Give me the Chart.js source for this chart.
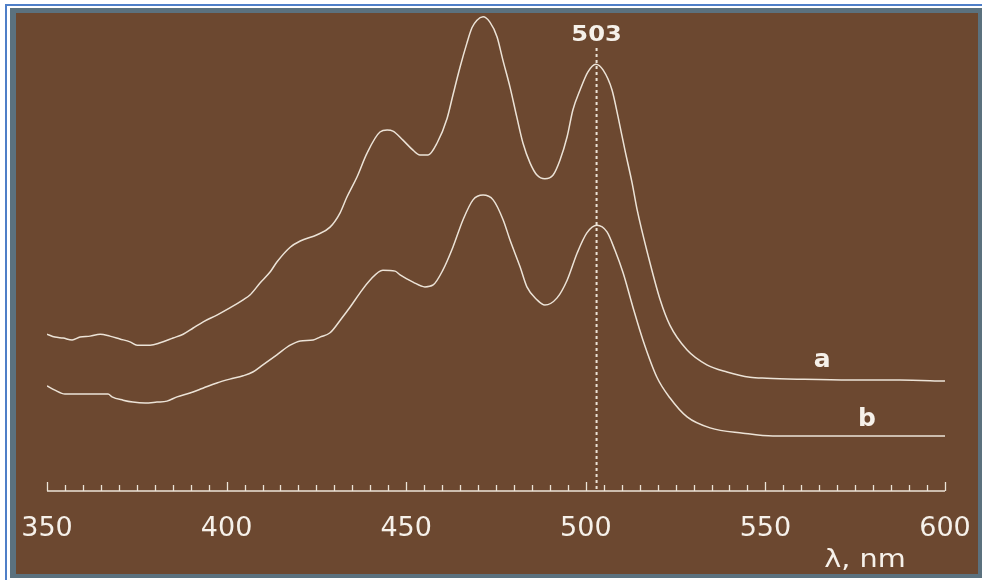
<!DOCTYPE html>
<html>
<head>
<meta charset="utf-8">
<script src="https://cdn.jsdelivr.net/npm/chart.js@4/dist/chart.umd.min.js"></script>
<style>
  html, body { margin: 0; padding: 0; background: #ffffff; width: 982px; height: 580px; overflow: hidden; }
  #blue { position: absolute; left: 5px; top: 4px; width: 1000px; height: 600px; border-left: 2px solid #4f7fc8; border-top: 2px solid #4f7fc8; }
  #gray { position: absolute; left: 10px; top: 8px; width: 972px; height: 570px; background: #5b717e; }
  #brown { position: absolute; left: 16px; top: 13px; width: 962px; height: 561px; background: #6c4830; }
  #c { position: absolute; left: 0; top: 0; }
</style>
</head>
<body>
<div id="blue"></div>
<div id="gray"></div>
<div id="brown"></div>
<canvas id="c" width="982" height="580"></canvas>
<script>
// Wavelength (nm) and relative absorbance, curve a
const lambdaA = [350.0,352.2,354.5,357.0,359.2,362.0,364.8,367.5,370.3,373.1,375.1,378.7,381.5,385.1,387.9,390.7,393.5,397.3,400.9,404.6,406.5,409.3,412.1,414.0,417.7,420.5,425.2,428.8,431.6,433.5,436.3,439.1,442.7,444.7,446.3,449.1,451.9,453.8,456.1,458.6,461.4,463.0,465.0,466.9,468.3,469.7,471.4,473.3,475.3,476.9,478.9,480.8,482.5,484.5,486.4,488.6,490.9,492.8,494.8,496.4,498.4,500.6,502.8,504.8,507.3,509.0,510.9,512.9,514.3,517.3,520.7,523.4,528.2,533.7,539.3,545.7,550.4,558.8,573.5,587.5,600.0];
const absA = [0.328,0.322,0.320,0.316,0.322,0.324,0.328,0.324,0.318,0.312,0.305,0.305,0.310,0.320,0.328,0.341,0.354,0.368,0.383,0.400,0.410,0.435,0.458,0.479,0.510,0.523,0.536,0.552,0.582,0.615,0.657,0.707,0.751,0.755,0.753,0.734,0.713,0.703,0.703,0.728,0.780,0.828,0.887,0.937,0.969,0.985,0.992,0.981,0.950,0.902,0.845,0.782,0.728,0.686,0.661,0.653,0.661,0.692,0.741,0.797,0.839,0.877,0.893,0.881,0.839,0.782,0.713,0.644,0.588,0.494,0.400,0.347,0.295,0.264,0.249,0.238,0.236,0.234,0.232,0.232,0.230];

// curve b
const lambdaB = [350.0,352.2,355.0,360.0,367.0,368.1,371.2,373.9,377.3,380.6,383.4,386.2,389.8,393.4,397.3,400.9,404.6,407.3,410.1,414.0,417.7,420.5,424.1,426.0,428.8,432.1,434.4,437.1,439.9,443.5,446.9,448.3,451.9,455.2,457.5,460.2,463.0,465.8,468.6,471.4,474.2,477.0,478.9,481.7,483.6,486.4,488.6,492.0,494.8,497.6,500.3,503.1,505.9,508.1,510.4,513.1,515.9,519.8,523.4,528.2,534.6,543.8,552.1,573.5,600.0];
const absB = [0.220,0.211,0.203,0.203,0.203,0.197,0.190,0.186,0.184,0.186,0.188,0.197,0.205,0.215,0.226,0.234,0.241,0.249,0.264,0.285,0.305,0.314,0.316,0.322,0.331,0.362,0.385,0.414,0.441,0.462,0.460,0.452,0.437,0.427,0.431,0.462,0.510,0.567,0.609,0.619,0.609,0.567,0.525,0.469,0.427,0.400,0.389,0.404,0.441,0.498,0.540,0.556,0.542,0.504,0.456,0.385,0.316,0.238,0.195,0.155,0.132,0.121,0.115,0.115,0.115];

const xTicks = [350, 400, 450, 500, 550, 600];
const peakMark = 503;
const peakLabel = '503';
const curveLabels = [
  { text: 'a', x: 565.8, y: 0.274 },
  { text: 'b', x: 578.3, y: 0.149 }
];
const axisTitle = 'λ, nm';

const lineColor = '#ece3d7';
const textColor = '#f6f1ea';

function pts(xs, ys) { return xs.map((x, i) => ({ x: x, y: ys[i] })); }

const decor = {
  id: 'decor',
  afterDatasetsDraw(chart) {
    const ctx = chart.ctx;
    const xs = chart.scales.x, ys = chart.scales.y;
    const y0 = ys.getPixelForValue(0);
    ctx.save();
    // axis line
    ctx.strokeStyle = lineColor;
    ctx.lineWidth = 1.5;
    ctx.beginPath();
    ctx.moveTo(xs.getPixelForValue(xTicks[0]), y0);
    ctx.lineTo(xs.getPixelForValue(xTicks[xTicks.length - 1]), y0);
    ctx.stroke();
    // tick marks every 5 nm, taller every 50
    ctx.lineWidth = 1.3;
    for (let v = xTicks[0]; v <= xTicks[xTicks.length - 1]; v += 5) {
      const px = Math.round(xs.getPixelForValue(v)) + 0.5;
      const h = (v % 50 === 0) ? 9 : 6;
      ctx.beginPath();
      ctx.moveTo(px, y0);
      ctx.lineTo(px, y0 - h);
      ctx.stroke();
    }
    // dotted line at peak
    const pxp = xs.getPixelForValue(peakMark);
    ctx.setLineDash([3, 3]);
    ctx.lineWidth = 2;
    ctx.beginPath();
    ctx.moveTo(pxp, 48);
    ctx.lineTo(pxp, y0);
    ctx.stroke();
    ctx.setLineDash([]);
    // texts
    ctx.fillStyle = textColor;
    ctx.textAlign = 'center';
    ctx.textBaseline = 'middle';
    ctx.save();
    ctx.translate(pxp, 36);
    ctx.scale(1.15, 1);
    ctx.font = 'bold 21px "DejaVu Sans"';
    ctx.fillText(peakLabel, 0, 0);
    ctx.restore();
    ctx.font = 'bold 25px "DejaVu Sans"';
    curveLabels.forEach(l => {
      ctx.fillText(l.text, xs.getPixelForValue(l.x), ys.getPixelForValue(l.y));
    });
    ctx.save();
    ctx.translate(865, 560);
    ctx.scale(1.15, 1);
    ctx.font = '25px "DejaVu Sans"';
    ctx.fillText(axisTitle, 0, 0);
    ctx.restore();
    ctx.restore();
  }
};

new Chart(document.getElementById('c'), {
  type: 'line',
  data: {
    datasets: [
      { label: 'a', data: pts(lambdaA, absA), borderColor: lineColor, borderWidth: 1.5, pointRadius: 0, cubicInterpolationMode: 'monotone', fill: false },
      { label: 'b', data: pts(lambdaB, absB), borderColor: lineColor, borderWidth: 1.5, pointRadius: 0, cubicInterpolationMode: 'monotone', fill: false }
    ]
  },
  options: {
    responsive: false,
    animation: false,
    events: [],
    layout: { padding: { left: 47, right: 37, top: 13, bottom: 0 } },
    plugins: { legend: { display: false }, tooltip: { enabled: false } },
    scales: {
      x: {
        type: 'linear',
        min: 350, max: 600,
        afterFit(scale) { scale.height = 89; scale.paddingLeft = 0; scale.paddingRight = 0; },
        afterBuildTicks(scale) { scale.ticks = xTicks.map(v => ({ value: v })); },
        grid: { display: false, drawTicks: false },
        border: { display: false },
        ticks: { color: textColor, font: { family: 'DejaVu Sans', size: 27 }, padding: 22, maxRotation: 0, autoSkip: false }
      },
      y: { display: false, min: 0, max: 1 }
    }
  },
  plugins: [decor]
});
</script>
</body>
</html>
